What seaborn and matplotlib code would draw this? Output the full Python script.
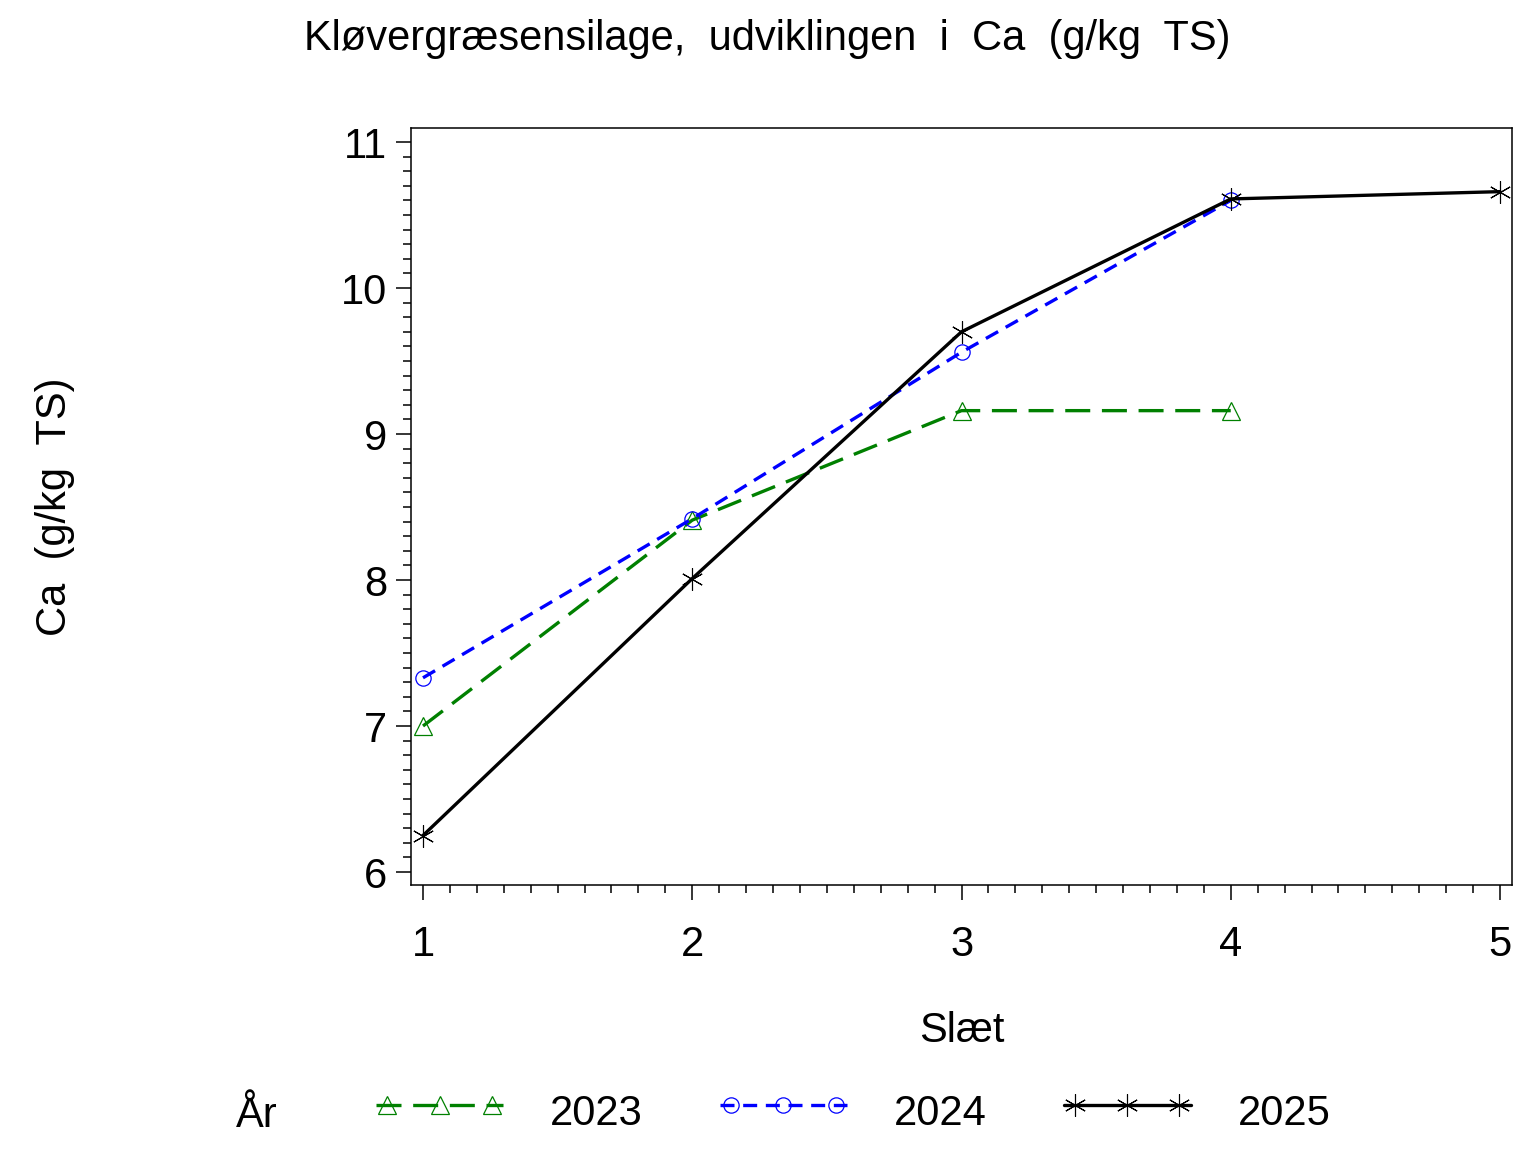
import numpy as np
import pandas as pd
import matplotlib
matplotlib.use("Agg")
import matplotlib.pyplot as plt
import seaborn as sns
from matplotlib.ticker import MultipleLocator
from matplotlib.legend_handler import HandlerLine2D
from matplotlib.lines import Line2D

# ---- data ----
years = ["2023", "2024", "2025"]
slaet_2023 = [1, 2, 3, 4]
ca_2023 = [7.00, 8.41, 9.16, 9.16]
slaet_2024 = [1, 2, 3, 4]
ca_2024 = [7.33, 8.42, 9.56, 10.60]
slaet_2025 = [1, 2, 3, 4, 5]
ca_2025 = [6.25, 8.01, 9.70, 10.61, 10.66]
x_ticks = [1, 2, 3, 4, 5]
y_ticks = [6, 7, 8, 9, 10, 11]

title = "Kløvergræsensilage,  udviklingen  i  Ca  (g/kg  TS)"
xlabel = "Slæt"
ylabel = "Ca  (g/kg  TS)"
legend_title = "År"

sns.set_style("ticks")
plt.rcParams["font.family"] = ["Liberation Sans", "DejaVu Sans"]
plt.rcParams["text.color"] = "black"
plt.rcParams["axes.labelcolor"] = "black"
plt.rcParams["xtick.color"] = "black"
plt.rcParams["ytick.color"] = "black"
plt.rcParams["axes.edgecolor"] = "black"

W, H = 1536, 1152
fig = plt.figure(figsize=(W / 100, H / 100), dpi=100)
ax = fig.add_axes([411 / W, 1 - 885 / H, (1512 - 411) / W, (885 - 128) / H])

styles = {
    "2023": dict(color="#008000", marker="^", markersize=13, ls=(0, (7.5, 3.5)), mew=0.9),
    "2024": dict(color="#0000ff", marker="o", markersize=11, ls=(0, (4.2, 2.6)), mew=0.9),
    "2025": dict(color="black", marker=(6, 2, 0), markersize=16, ls="-", mew=0.8),
}
xs = {"2023": slaet_2023, "2024": slaet_2024, "2025": slaet_2025}
ys = {"2023": ca_2023, "2024": ca_2024, "2025": ca_2025}

handles = []
for yr in years:
    st = styles[yr]
    df = pd.DataFrame({"Slæt": xs[yr], "Ca": ys[yr]})
    sns.lineplot(data=df, x="Slæt", y="Ca", ax=ax, errorbar=None,
                 color=st["color"], marker=st["marker"], markersize=st["markersize"],
                 linestyle=st["ls"], linewidth=2.4, markerfacecolor="none",
                 markeredgecolor=st["color"], markeredgewidth=st["mew"], label=yr)
    handles.append(ax.lines[-1])

ax.set_xlim(1 - 12 / 269.25, 5 + 12 / 269.25)
ax.set_ylim(6 - 13 / 146, 11 + 14 / 146)
ax.set_xticks(x_ticks)
ax.set_yticks(y_ticks)
ax.xaxis.set_minor_locator(MultipleLocator(0.1))
ax.yaxis.set_minor_locator(MultipleLocator(0.1))
ax.tick_params(which="major", length=11, width=1.1, labelsize=30, direction="out",
               color="black", labelcolor="black")
ax.tick_params(which="minor", length=6, width=1.1, direction="out", color="black")
ax.tick_params(axis="x", which="major", pad=18)
ax.tick_params(axis="y", which="major", pad=6)
for s in ax.spines.values():
    s.set_visible(True)
    s.set_linewidth(1.1)
    s.set_color("black")
ax.set_xlabel("")
ax.set_ylabel("")
if ax.get_legend():
    ax.get_legend().remove()

fig.text(767.5 / W, 1 - 50 / H, title, ha="center", va="baseline", fontsize=30, color="black")
fig.text(961.5 / W, 1 - 1042 / H, xlabel, ha="center", va="baseline", fontsize=30, color="black")
fig.text(55 / W, 1 - 507 / H, ylabel, ha="center", va="center", rotation=90, fontsize=30, color="black")
fig.text(236 / W, 1 - 1127 / H, legend_title, ha="left", va="baseline", fontsize=30, color="black")


class Handler3(HandlerLine2D):
    def create_artists(self, legend, orig_handle, xdescent, ydescent, width, height,
                       fontsize, trans):
        pad = 0.27 * fontsize
        x0 = -xdescent
        x1 = -xdescent + width
        xdata = np.array([x0, x0 + pad, 0.5 * (x0 + x1), x1 - pad, x1])
        ydata = np.full_like(xdata, (height - ydescent) / 2 + 0.12 * fontsize)
        legline = Line2D(xdata, ydata)
        self.update_prop(legline, orig_handle, legend)
        legline.set_markevery([1, 2, 3])
        legline.set_transform(trans)
        return [legline]


fs_px = 30 * 100 / 72
leg = fig.legend(handles=handles, labels=years, loc="center left",
                 bbox_to_anchor=(376 / W, 1 - 1114 / H), ncol=3, frameon=False,
                 fontsize=30, handlelength=127 / fs_px, handletextpad=47 / fs_px,
                 columnspacing=77 / fs_px, borderpad=0, borderaxespad=0, numpoints=3,
                 handler_map={h: Handler3() for h in handles})
for t in leg.get_texts():
    t.set_color("black")

fig.savefig("out.png", dpi=100)
